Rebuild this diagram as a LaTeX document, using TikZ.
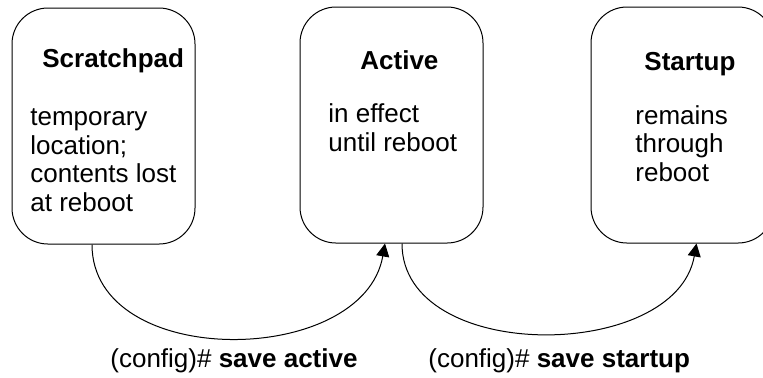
\documentclass[tikz,border=0pt]{standalone}
\usepackage{fontspec}
\setmainfont{Liberation Sans}
\usetikzlibrary{arrows.meta,positioning}
\tikzset{>={Triangle[length=6.5pt,width=6.5pt]},
  store/.style={draw,rounded corners=18pt,minimum width=91.5pt,
    minimum height=118pt,line width=.5pt},
  storeTitle/.style={anchor=base west,inner sep=0pt,
    font=\fontsize{13}{14.25}\selectfont\bfseries},
  storeText/.style={anchor=base west,inner sep=0pt,align=left},
  saveArrow/.style={->,line width=.5pt}}

\begin{document}
\begin{tikzpicture}[x=.5pt,y=-.5pt,font=\fontsize{13}{14.25}\selectfont]
    \clip (0,0) rectangle (763,377);

    \node[store] (scratch) at (103.5,126) {};
    \node[store] (active) at (391.5,125) {};
    \node[store] (startup) at (682.5,125) {};

    \node[storeTitle] (scratchT) at (42,67) {Scratchpad};
    \node[storeTitle] (activeT) at (360,69.5) {Active};
    \node[storeTitle] (startupT) at (644,70) {Startup};

    % base of a text block is its last line
    \node[storeText] (scratchB) at (30,211)
      {temporary\\location;\\contents lost\\at reboot};
    \node[storeText] (activeB) at (328,151) {in effect\\until reboot};
    \node[storeText] (startupB) at (635,181) {remains\\through\\reboot};

    \draw[saveArrow] ([xshift=-5.75pt]scratch.south)
      to[out=-90,in=-100,looseness=1.1] ([xshift=-3.25pt]active.south);
    \draw[saveArrow] ([xshift=5.25pt]active.south)
      to[out=-90,in=-100,looseness=1.05] ([xshift=7pt]startup.south);

    \node[storeText] (saveActive) at (110,367) {(config)\# \textbf{save active}};
    \node[storeText] (saveStartup) at (428,367) {(config)\# \textbf{save startup}};
  \end{tikzpicture}
\end{document}
